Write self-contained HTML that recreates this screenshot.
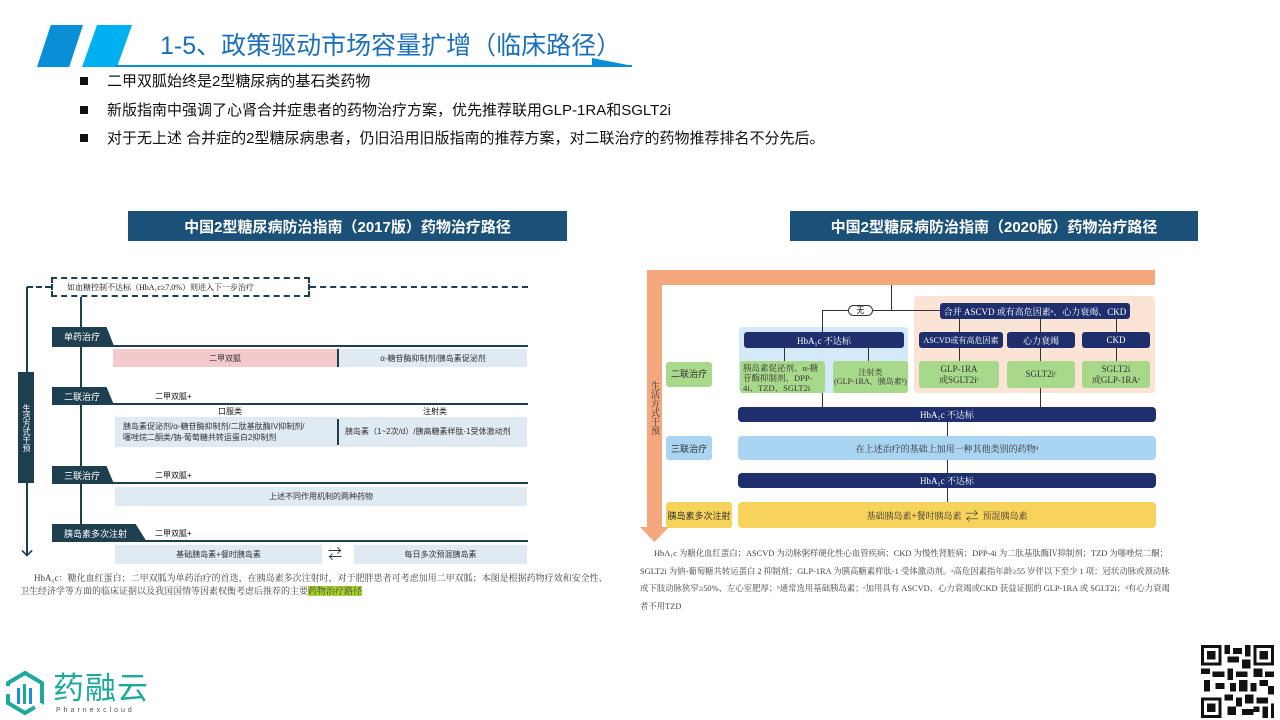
<!DOCTYPE html>
<html><head><meta charset="utf-8"><style>
*{margin:0;padding:0;box-sizing:border-box}
body{width:1280px;height:720px;position:relative;background:#fff;overflow:hidden;font-family:"Liberation Sans","Noto Sans CJK SC",sans-serif;color:#111}
.a{position:absolute}
.c{display:flex;align-items:center;justify-content:center;text-align:center}
.sf{font-family:"Liberation Serif","Noto Serif CJK SC",serif}
.tab{position:absolute;background:#1e3f4f;color:#fff;font-size:9px;padding-left:12px;display:flex;align-items:center;clip-path:polygon(0 0,88% 0,100% 100%,0 100%)}
.hl{position:absolute;height:2px;background:#1e3f4f}
.lb{position:absolute;background:#dfeaf3;font-size:8px;color:#333}
.va{position:absolute;width:1.5px;background:#1e3f4f}
.nb{position:absolute;background:#1f2f6e;color:#fff;font-size:9px;border-radius:3px;white-space:nowrap}
.gb{position:absolute;background:#a8d88a;color:#333;font-size:9px;border-radius:3px;line-height:1.15}
.ar{position:absolute;width:1px;background:#333}
</style></head><body>
<div class="a" style="left:37px;top:25px;width:46px;height:42px;background:#0a8fd6;clip-path:polygon(30% 0,100% 0,70% 100%,0 100%)"></div>
<div class="a" style="left:82px;top:25px;width:50px;height:42px;background:#00b0f0;clip-path:polygon(30% 0,100% 0,70% 100%,0 100%)"></div>
<div class="a" style="left:115px;top:65px;width:517px;height:2px;background:#0a8fd6"></div>
<div class="a" style="left:592px;top:58px;width:41px;height:8px;background:#0a8fd6;clip-path:polygon(0 0,100% 100%,0 100%)"></div>
<div class="a" style="left:160px;top:26px;font-size:25px;color:#1a6fba;white-space:nowrap">1-5、政策驱动市场容量扩增（临床路径）</div>
<div class="a" style="left:80px;top:68px;font-size:15px;line-height:28.5px;white-space:nowrap">
<div><span style="display:inline-block;width:8px;height:8px;background:#111;margin-right:19px;vertical-align:1px"></span>二甲双胍始终是2型糖尿病的基石类药物</div>
<div><span style="display:inline-block;width:8px;height:8px;background:#111;margin-right:19px;vertical-align:1px"></span>新版指南中强调了心肾合并症患者的药物治疗方案，优先推荐联用GLP-1RA和SGLT2i</div>
<div><span style="display:inline-block;width:8px;height:8px;background:#111;margin-right:19px;vertical-align:1px"></span>对于无上述 合并症的2型糖尿病患者，仍旧沿用旧版指南的推荐方案，对二联治疗的药物推荐排名不分先后。</div>
</div>
<div class="a c" style="left:128px;top:211px;width:439px;height:30px;background:#1b5178;color:#fff;font-size:15px;font-weight:bold">中国2型糖尿病防治指南（2017版）药物治疗路径</div>
<div class="a c" style="left:790px;top:211px;width:408px;height:30px;background:#1b5178;color:#fff;font-size:15px;font-weight:bold">中国2型糖尿病防治指南（2020版）药物治疗路径</div>

<div class="a" style="left:27px;top:286px;width:24px;border-top:2px dashed #1e3f4f"></div>
<div class="a" style="left:310px;top:286px;width:218px;border-top:2px dashed #1e3f4f"></div>
<div class="a sf" style="left:51px;top:277px;width:259px;height:20px;border:2px dashed #1e3f4f;font-size:8px;padding:3px 0 0 14px;white-space:nowrap">如血糖控制不达标（HbA₁c≥7.0%）则进入下一步治疗</div>
<div class="va" style="left:26px;top:287px;height:268px"></div>
<div class="a" style="left:22px;top:546px;width:10px;height:10px;border-right:2px solid #1e3f4f;border-bottom:2px solid #1e3f4f;transform:rotate(45deg) scale(.8)"></div>
<div class="a c" style="left:18px;top:372px;width:16px;height:111px;background:#1e3f4f;color:#fff;font-size:8px;line-height:10px;writing-mode:vertical-rl">生活方式干预</div>
<div class="va" style="left:80px;top:297px;height:30px"></div>
<div class="va" style="left:80px;top:347px;height:40px"></div>
<div class="va" style="left:80px;top:405px;height:61px"></div>
<div class="va" style="left:80px;top:484px;height:40px"></div>
<div class="tab" style="left:52px;top:327px;width:62px;height:19px">单药治疗</div>
<div class="hl" style="left:52px;top:345px;width:476px"></div>
<div class="lb c" style="left:113px;top:349px;width:224px;height:18px;background:#f4c9cc">二甲双胍</div>
<div class="a" style="left:337px;top:349px;width:1.5px;height:18px;background:#1e3f4f"></div>
<div class="lb c" style="left:339px;top:349px;width:188px;height:18px">α-糖苷酶抑制剂/胰岛素促泌剂</div>
<div class="tab" style="left:52px;top:387px;width:62px;height:18px">二联治疗</div>
<div class="a" style="left:155px;top:391px;font-size:8px">二甲双胍+</div>
<div class="hl" style="left:52px;top:403px;width:476px"></div>
<div class="a" style="left:218px;top:406px;font-size:8px">口服类</div>
<div class="a" style="left:423px;top:406px;font-size:8px">注射类</div>
<div class="lb" style="left:115px;top:417px;width:222px;height:30px;padding:4px 0 0 8px;line-height:11px">胰岛素促泌剂/α-糖苷酶抑制剂/二肽基肽酶IV抑制剂/<br>噻唑烷二酮类/钠-葡萄糖共转运蛋白2抑制剂</div>
<div class="a" style="left:337px;top:419px;width:1.5px;height:26px;background:#1e3f4f"></div>
<div class="lb" style="left:339px;top:417px;width:188px;height:30px;padding:9px 0 0 6px;white-space:nowrap">胰岛素（1~2次/d）/胰高糖素样肽-1受体激动剂</div>
<div class="tab" style="left:52px;top:466px;width:62px;height:18px">三联治疗</div>
<div class="a" style="left:155px;top:470px;font-size:8px">二甲双胍+</div>
<div class="hl" style="left:52px;top:482px;width:476px"></div>
<div class="lb c" style="left:115px;top:487px;width:412px;height:19px">上述不同作用机制的两种药物</div>
<div class="tab" style="left:52px;top:524px;width:95px;height:18px">胰岛素多次注射</div>
<div class="a" style="left:155px;top:528px;font-size:8px">二甲双胍+</div>
<div class="hl" style="left:52px;top:540px;width:476px"></div>
<div class="lb c" style="left:115px;top:545px;width:207px;height:19px">基础胰岛素+餐时胰岛素</div>
<div class="a" style="left:328px;top:546px;font-size:14px;color:#1e3f4f;line-height:16px">⇄</div>
<div class="lb c" style="left:354px;top:545px;width:173px;height:19px">每日多次预混胰岛素</div>
<div class="a sf" style="left:20px;top:572px;width:595px;font-size:9px;line-height:13px;color:#444;text-indent:14px">HbA₁c：糖化血红蛋白；二甲双胍为单药治疗的首选，在胰岛素多次注射时，对于肥胖患者可考虑加用二甲双胍；本图是根据药物疗效和安全性、卫生经济学等方面的临床证据以及我国国情等因素权衡考虑后推荐的主要<span style="background:#a8d42c">药物治疗路径</span></div>

<div class="a" style="left:647px;top:270px;width:508px;height:15px;background:#f5a77e"></div>
<div class="a" style="left:647px;top:270px;width:15px;height:258px;background:#f5a77e"></div>
<div class="a" style="left:640px;top:527px;width:29px;height:15px;background:#f5a77e;clip-path:polygon(0 0,100% 0,50% 100%)"></div>
<div class="a c sf" style="left:648px;top:375px;width:14px;height:66px;writing-mode:vertical-rl;font-size:9px;line-height:12px;color:#333">生活方式干预</div>
<div class="a" style="left:914px;top:296px;width:241px;height:97px;background:#fbe3d5;border-radius:4px"></div>
<div class="a" style="left:739px;top:327px;width:169px;height:66px;background:#d4eaf8;border-radius:4px"></div>
<div class="a" style="left:891px;top:285px;width:1px;height:25px;background:#333"></div>
<div class="a" style="left:822px;top:310px;width:118px;height:1px;background:#333"></div>
<div class="ar" style="left:822px;top:310px;height:22px"></div>
<div class="a c" style="left:848px;top:305px;width:25px;height:11px;border:1.5px solid #333;border-radius:6px;background:#fff;font-size:8px">无</div>
<div class="nb c sf" style="left:940px;top:303px;width:190px;height:16px">合并 ASCVD 或有高危因素ᵃ、心力衰竭、CKD</div>
<div class="nb c sf" style="left:744px;top:332px;width:160px;height:16px">HbA₁c 不达标</div>
<div class="nb c sf" style="left:919px;top:332px;width:84px;height:16px;font-size:8px">ASCVD或有高危因素</div>
<div class="nb c sf" style="left:1007px;top:332px;width:68px;height:16px">心力衰竭</div>
<div class="nb c sf" style="left:1082px;top:332px;width:68px;height:16px">CKD</div>
<div class="ar" style="left:959px;top:319px;height:13px"></div>
<div class="ar" style="left:1040px;top:319px;height:13px"></div>
<div class="ar" style="left:1116px;top:319px;height:13px"></div>
<div class="ar" style="left:784px;top:348px;height:13px"></div>
<div class="ar" style="left:868px;top:348px;height:13px"></div>
<div class="ar" style="left:959px;top:348px;height:13px"></div>
<div class="ar" style="left:1040px;top:348px;height:13px"></div>
<div class="ar" style="left:1116px;top:348px;height:13px"></div>
<div class="gb c" style="left:666px;top:362px;width:46px;height:25px">二联治疗</div>
<div class="gb sf" style="left:740px;top:361px;width:85px;height:32px;padding:2px 3px;font-size:8.5px;line-height:10px">胰岛素促泌剂、α-糖苷酶抑制剂、DPP-4i、TZD、SGLT2i</div>
<div class="gb c sf" style="left:833px;top:361px;width:75px;height:32px;font-size:8px">注射类<br>(GLP-1RA、胰岛素ᵇ)</div>
<div class="gb c sf" style="left:919px;top:361px;width:80px;height:27px">GLP-1RA<br>或SGLT2iᶜ</div>
<div class="gb c sf" style="left:1007px;top:361px;width:68px;height:27px">SGLT2iᶜ</div>
<div class="gb c sf" style="left:1082px;top:361px;width:68px;height:27px">SGLT2i<br>或GLP-1RAᶜ</div>
<div class="ar" style="left:822px;top:393px;height:14px"></div>
<div class="ar" style="left:1040px;top:388px;height:19px"></div>
<div class="nb c sf" style="left:738px;top:407px;width:418px;height:15px;border-radius:4px">HbA₁c 不达标</div>
<div class="ar" style="left:947px;top:422px;height:14px"></div>
<div class="a c" style="left:666px;top:436px;width:46px;height:24px;background:#a9d4f2;font-size:9px;color:#333;border-radius:3px">三联治疗</div>
<div class="a c sf" style="left:738px;top:436px;width:418px;height:24px;background:#a9d4f2;font-size:9px;color:#333;border-radius:4px">在上述治疗的基础上加用一种其他类别的药物ᵈ</div>
<div class="ar" style="left:947px;top:460px;height:13px"></div>
<div class="nb c sf" style="left:738px;top:473px;width:418px;height:15px;border-radius:4px">HbA₁c 不达标</div>
<div class="ar" style="left:947px;top:488px;height:14px"></div>
<div class="a c" style="left:666px;top:502px;width:66px;height:26px;background:#f8d35c;font-size:9px;color:#333;border-radius:3px">胰岛素多次注射</div>
<div class="a c sf" style="left:738px;top:502px;width:418px;height:26px;background:#f8d35c;font-size:9px;color:#333;border-radius:4px">基础胰岛素+餐时胰岛素 <span style="font-size:13px;margin:0 4px">⇄</span> 预混胰岛素</div>
<div class="a sf" style="left:640px;top:545px;width:530px;font-size:8.4px;line-height:17.5px;color:#444;text-indent:14px">HbA₁c 为糖化血红蛋白；ASCVD 为动脉粥样硬化性心血管疾病；CKD 为慢性肾脏病；DPP-4i 为二肽基肽酶Ⅳ抑制剂；TZD 为噻唑烷二酮；SGLT2i 为钠-葡萄糖共转运蛋白 2 抑制剂；GLP-1RA 为胰高糖素样肽-1 受体激动剂。ᵃ高危因素指年龄≥55 岁伴以下至少 1 项：冠状动脉或颈动脉或下肢动脉狭窄≥50%、左心室肥厚；ᵇ通常选用基础胰岛素；ᶜ加用具有 ASCVD、心力衰竭或CKD 获益证据的 GLP-1RA 或 SGLT2i；ᵈ有心力衰竭者不用TZD</div>

<svg class="a" style="left:5px;top:670px" width="40" height="46" viewBox="0 0 40 46">
<path d="M20 3 L37 13 L37 33 L20 43 L3 33 L3 13 Z" fill="none" stroke="#1aab9b" stroke-width="4" stroke-dasharray="40 8"/>
<rect x="12" y="18" width="3" height="16" fill="#1a8fe0"/><rect x="18" y="14" width="3" height="20" fill="#1aab9b"/><rect x="24" y="18" width="3" height="16" fill="#1a8fe0"/>
</svg>
<div class="a" style="left:53px;top:672px;font-size:31px;color:#1aab9b;letter-spacing:1px;line-height:34px">药融云</div>
<div class="a" style="left:56px;top:707px;font-size:7px;color:#555;letter-spacing:3px">Pharnexcloud</div>

<svg class="a" style="left:1200px;top:645px" width="75" height="73" viewBox="0 0 25 25" shape-rendering="crispEdges">
<rect width="25" height="25" fill="#fff"/>
<g fill="#111">
<rect x="0" y="0" width="7" height="7"/><rect x="18" y="0" width="7" height="7"/><rect x="0" y="18" width="7" height="7"/>
</g>
<g fill="#fff"><rect x="1" y="1" width="5" height="5"/><rect x="19" y="1" width="5" height="5"/><rect x="1" y="19" width="5" height="5"/></g>
<g fill="#111"><rect x="2" y="2" width="3" height="3"/><rect x="20" y="2" width="3" height="3"/><rect x="2" y="20" width="3" height="3"/>
<rect x="8" y="0" width="2" height="3"/><rect x="11" y="1" width="3" height="2"/><rect x="15" y="0" width="2" height="4"/><rect x="9" y="4" width="4" height="2"/><rect x="14" y="5" width="3" height="3"/>
<rect x="0" y="8" width="3" height="2"/><rect x="4" y="9" width="4" height="2"/><rect x="9" y="8" width="2" height="4"/><rect x="12" y="9" width="4" height="2"/><rect x="18" y="8" width="3" height="3"/><rect x="22" y="9" width="3" height="2"/>
<rect x="1" y="12" width="2" height="4"/><rect x="5" y="13" width="3" height="2"/><rect x="10" y="13" width="2" height="3"/><rect x="13" y="12" width="3" height="4"/><rect x="17" y="13" width="2" height="3"/><rect x="20" y="12" width="3" height="2"/><rect x="23" y="14" width="2" height="3"/>
<rect x="8" y="17" width="3" height="2"/><rect x="12" y="18" width="2" height="3"/><rect x="15" y="17" width="3" height="3"/><rect x="19" y="18" width="4" height="2"/><rect x="21" y="21" width="2" height="4"/><rect x="9" y="21" width="3" height="3"/><rect x="14" y="22" width="4" height="2"/><rect x="18" y="21" width="2" height="2"/><rect x="24" y="20" width="1" height="5"/>
</g></svg>
</body></html>
